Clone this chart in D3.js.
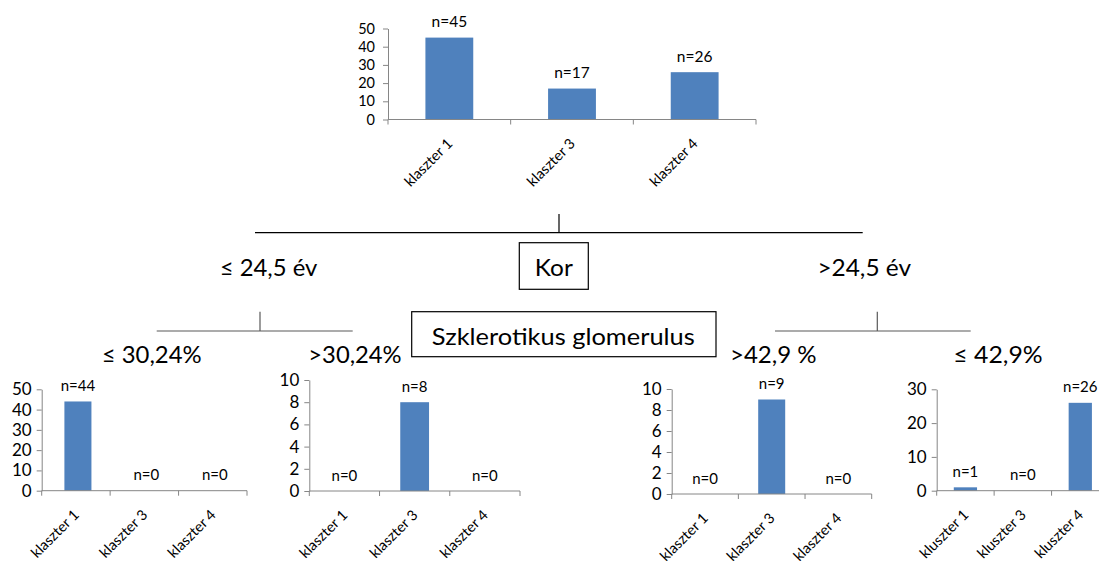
<!DOCTYPE html>
<html>
<head>
<meta charset="utf-8">
<script src="https://cdn.jsdelivr.net/npm/d3@7"></script>
<style>
  html, body { margin: 0; padding: 0; background: #fff; }
  svg { display: block; font-family: Lato, "Open Sans", sans-serif; }
</style>
</head>
<body>
<svg id="chart" width="1099" height="561"></svg>
<script>
// Cluster counts at each node of the decision tree
const clusterNames = ["klaszter 1", "klaszter 3", "klaszter 4"];
const clusterNamesAlt = ["kluszter 1", "kluszter 3", "kluszter 4"];

const rootCounts = [45, 17, 26];          // all patients
const youngLowCounts = [44, 0, 0];         // ≤ 24,5 év, ≤ 30,24%
const youngHighCounts = [0, 8, 0];         // ≤ 24,5 év, >30,24%
const olderHighCounts = [0, 9, 0];         // >24,5 év, >42,9 %
const olderLowCounts = [1, 0, 26];         // >24,5 év, ≤ 42,9%

const ticks50 = [0, 10, 20, 30, 40, 50];
const ticks10 = [0, 2, 4, 6, 8, 10];
const ticks30 = [0, 10, 20, 30];

// Tree labels
const splitAge = "Kor";
const splitGlom = "Szklerotikus glomerulus";
const ageLeft = "≤ 24,5 év";
const ageRight = ">24,5 év";
const glomLabels = ["≤ 30,24%", ">30,24%", ">42,9 %", "≤ 42,9%"];

const svg = d3.select("#chart");
const BAR = "#4F81BD";
const AXIS = "#868686";

function drawBars(opt) {
  const g = svg.append("g");
  const x = d3.scaleBand().domain(opt.cats).range([opt.left, opt.right]).padding(0);
  const y = d3.scaleLinear().domain([0, opt.max]).range([opt.bottom, opt.top]);
  const bw = x.bandwidth() * opt.barFrac;
  const cx = c => x(c) + x.bandwidth() / 2 + opt.barShift;

  // bars
  g.selectAll("rect.bar").data(opt.vals).enter().append("rect")
    .attr("class", "bar")
    .attr("x", (d, i) => cx(opt.cats[i]) - bw / 2)
    .attr("width", bw)
    .attr("y", d => y(d))
    .attr("height", d => y(0) - y(d))
    .attr("fill", BAR);

  // y axis
  const ya = g.append("g")
    .attr("transform", `translate(${opt.left},0)`)
    .call(d3.axisLeft(y).tickValues(opt.ticks).tickSize(5).tickSizeOuter(0).tickPadding(opt.tickPad));
  ya.select(".domain").attr("stroke", AXIS);
  ya.selectAll(".tick line").attr("stroke", AXIS);
  ya.selectAll(".tick text").attr("fill", "#000").attr("font-size", opt.tickFont)
    .attr("font-family", "Lato");

  // x axis line and boundary ticks
  const ax = opt.bottom;
  g.append("line").attr("x1", opt.left).attr("x2", opt.right)
    .attr("y1", ax).attr("y2", ax).attr("stroke", AXIS);
  const bounds = [opt.left].concat(opt.cats.map(c => x(c) + x.bandwidth()));
  g.selectAll("line.bt").data(bounds).enter().append("line")
    .attr("x1", d => d).attr("x2", d => d)
    .attr("y1", ax).attr("y2", ax + 5).attr("stroke", AXIS);

  // rotated category labels
  g.selectAll("text.cat").data(opt.cats).enter().append("text")
    .attr("transform", d => `translate(${x(d) + x.bandwidth() / 2 + 4},${ax + 25}) rotate(-45)`)
    .attr("text-anchor", "end")
    .attr("font-size", opt.catFont)
    .attr("fill", "#000")
    .text(d => d);

  // value labels
  g.selectAll("text.n").data(opt.vals).enter().append("text")
    .attr("x", (d, i) => cx(opt.cats[i]))
    .attr("y", d => y(d) - 10.5)
    .attr("text-anchor", "middle")
    .attr("font-size", opt.nFont)
    .attr("fill", "#000")
    .text(d => "n=" + d);
}

drawBars({ cats: clusterNames, vals: rootCounts, ticks: ticks50, max: 50,
  left: 388, right: 756, bottom: 119.5, top: 28.5, barFrac: 0.39, barShift: 0,
  tickFont: 14.5, tickPad: 8, nFont: 15.5, catFont: 14.5 });
drawBars({ cats: clusterNames, vals: youngLowCounts, ticks: ticks50, max: 50,
  left: 41.7, right: 247, bottom: 490.7, top: 389.3, barFrac: 0.395, barShift: 2,
  tickFont: 17, tickPad: 5, nFont: 15, catFont: 14.5 });
drawBars({ cats: clusterNames, vals: youngHighCounts, ticks: ticks10, max: 10,
  left: 309.3, right: 520, bottom: 491, top: 380, barFrac: 0.41, barShift: 0,
  tickFont: 17, tickPad: 5, nFont: 15, catFont: 14.5 });
drawBars({ cats: clusterNames, vals: olderHighCounts, ticks: ticks10, max: 10,
  left: 671.7, right: 871.7, bottom: 494, top: 389, barFrac: 0.405, barShift: 0,
  tickFont: 17, tickPad: 5, nFont: 15, catFont: 14.5 });
drawBars({ cats: clusterNamesAlt, vals: olderLowCounts, ticks: ticks30, max: 30,
  left: 936.7, right: 1109, bottom: 490.7, top: 389.3, barFrac: 0.405, barShift: 0,
  tickFont: 17, tickPad: 5, nFont: 15, catFont: 14.5 });

// Tree connectors
const tree = svg.append("g");
function seg(x1, y1, x2, y2, color) {
  tree.append("line").attr("x1", x1).attr("y1", y1).attr("x2", x2).attr("y2", y2)
    .attr("stroke", color).attr("stroke-width", 1.2);
}
seg(255, 232.7, 862.7, 232.7, "#000");
seg(559, 214, 559, 232.7, "#000");
seg(156.7, 331, 352.7, 331, "#595959");
seg(260, 311.7, 260, 331, "#595959");
seg(775, 331, 970.7, 331, "#595959");
seg(877.3, 311.7, 877.3, 331, "#595959");

// Boxes
tree.append("rect").attr("x", 519.3).attr("y", 242.7).attr("width", 69).attr("height", 46.6)
  .attr("fill", "#fff").attr("stroke", "#000").attr("stroke-width", 1.2);
tree.append("rect").attr("x", 411.7).attr("y", 311.7).attr("width", 304.3).attr("height", 45)
  .attr("fill", "#fff").attr("stroke", "#000").attr("stroke-width", 1.2);

// Text at a fixed size, squeezed horizontally to a given width,
// centred on cx with its baseline at y
function fitText(str, cx, y, width, size) {
  const t = tree.append("text").attr("font-size", size).attr("fill", "#000")
    .attr("text-anchor", "middle").text(str);
  const w = t.node().getComputedTextLength();
  t.attr("transform", `translate(${cx},${y}) scale(${width / w},1)`);
}
fitText(splitAge, 553.8, 276, 38, 23.5);
fitText(ageLeft, 268.5, 276, 97.7, 23.5);
fitText(ageRight, 864.2, 276, 93.7, 23.5);
fitText(splitGlom, 563.3, 345, 263, 24);
fitText(glomLabels[0], 151.7, 363.3, 100, 23);
fitText(glomLabels[1], 355, 363.3, 93.4, 23);
fitText(glomLabels[2], 773.3, 363.3, 86.7, 23);
fitText(glomLabels[3], 998, 363.3, 89.4, 23);
</script>
</body>
</html>
